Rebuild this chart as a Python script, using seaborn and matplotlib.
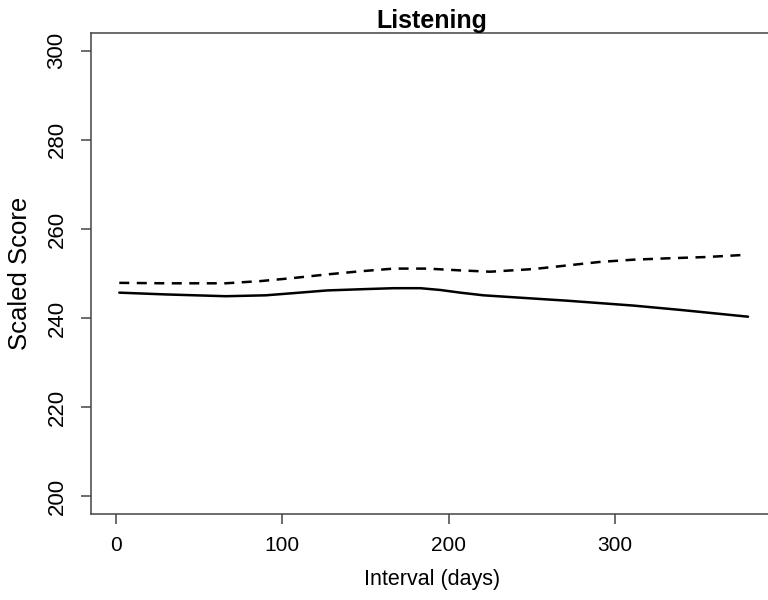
import matplotlib
matplotlib.use("Agg")
import matplotlib.pyplot as plt
import seaborn as sns
import pandas as pd

sns.set_style("white")
plt.rcParams['font.family'] = ['Liberation Sans', 'DejaVu Sans']
plt.rcParams['text.color'] = 'black'
plt.rcParams['axes.labelcolor'] = 'black'
plt.rcParams['xtick.color'] = 'black'
plt.rcParams['ytick.color'] = 'black'

# Data
solid_x = [2, 30, 66, 90, 107, 127, 150, 167, 183, 195, 207, 221, 250, 271, 311, 340, 380]
solid_y = [245.7, 245.3, 244.9, 245.1, 245.6, 246.2, 246.5, 246.7, 246.7, 246.3, 245.7,
           245.1, 244.4, 243.9, 242.8, 241.8, 240.3]
dash_x = [2, 30, 66, 87, 107, 127, 147, 167, 187, 207, 225, 251, 271, 291, 311, 331, 355, 379]
dash_y = [247.9, 247.8, 247.8, 248.3, 249.0, 249.8, 250.5, 251.1, 251.1, 250.7, 250.4,
          251.0, 251.8, 252.6, 253.1, 253.4, 253.7, 254.2]
x_ticks = [0, 100, 200, 300]
y_ticks = [200, 220, 240, 260, 280, 300]
title = "Listening"
xlabel = "Interval (days)"
ylabel = "Scaled Score"

W, H = 768, 600
fig = plt.figure(figsize=(W / 100, H / 100), dpi=100)
ax = fig.add_axes([91 / W, (H - 514) / H, (773 - 91) / W, (514 - 33) / H])

sns.lineplot(x=solid_x, y=solid_y, ax=ax, color="black", linewidth=1.8, sort=False)
sns.lineplot(x=dash_x, y=dash_y, ax=ax, color="black", linewidth=1.8, sort=False)
ax.lines[-1].set_dashes((4, 3))

ax.set_xlim(-15, 395)
ax.set_ylim(196, 304)
ax.set_xticks(x_ticks)
ax.set_yticks(y_ticks)
ax.set_yticklabels([str(v) for v in y_ticks], rotation=90, va="center", fontsize=16)
ax.set_xticklabels([str(v) for v in x_ticks], fontsize=15)

for side in ["left", "bottom", "top"]:
    ax.spines[side].set_visible(True)
    ax.spines[side].set_color("#444444")
    ax.spines[side].set_linewidth(1.1)
ax.spines["right"].set_visible(False)

ax.tick_params(axis="both", which="major", direction="out", length=7, width=1.1,
               color="#444444", labelcolor="black", left=True, bottom=True)
ax.tick_params(axis="y", pad=10)
ax.tick_params(axis="x", pad=9)

ax.set_xlabel(xlabel, fontsize=15.5, labelpad=10, color="black")
ax.set_ylabel(ylabel, fontsize=18.5, labelpad=10, color="black")
ax.set_title(title, fontsize=18, fontweight="bold", pad=3.5, color="black")

fig.savefig("out.png", dpi=100)
